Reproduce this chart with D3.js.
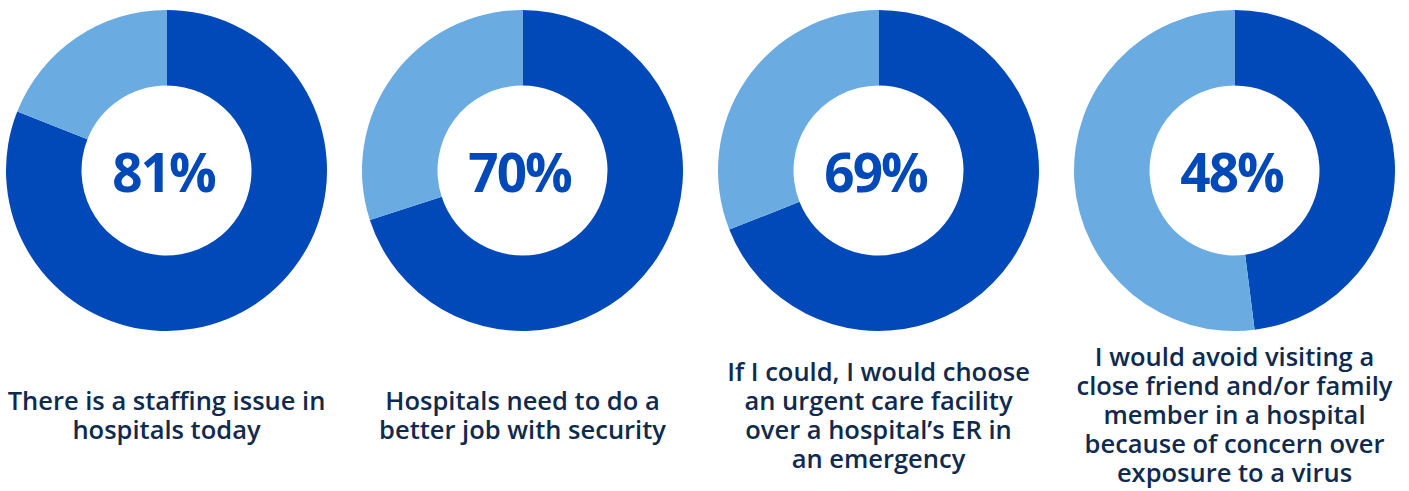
<!DOCTYPE html>
<html>
<head>
<meta charset="utf-8">
<script src="https://cdn.jsdelivr.net/npm/d3@7"></script>
<style>
  html, body { margin: 0; padding: 0; background: #ffffff; }
  svg { display: block; }
</style>
</head>
<body>
<svg id="chart" width="1409" height="491"></svg>
<script>
// Survey results: share of respondents agreeing with each statement
const statements = [
  ["There is a staffing issue in", "hospitals today"],
  ["Hospitals need to do a", "better job with security"],
  ["If I could, I would choose", "an urgent care facility", "over a hospital\u2019s ER in", "an emergency"],
  ["I would avoid visiting a", "close friend and/or family", "member in a hospital", "because of concern over", "exposure to a virus"]
];
const agreePct = [81, 70, 69, 48];

const colorAgree = "#0148b9";
const colorRest = "#6aabe2";
const textColor = "#0f2a4e";

const outerR = 160.5;
const innerR = 85;
const cy = 170.5;
const labelMid = 415;
const lineH = 29;

const svg = d3.select("#chart");

const x = d3.scalePoint()
  .domain(d3.range(agreePct.length))
  .range([166.5, 1234.5]);

const pie = d3.pie().sort(null).value(d => d);
const arc = d3.arc().innerRadius(innerR).outerRadius(outerR);

agreePct.forEach((p, i) => {
  const g = svg.append("g").attr("transform", `translate(${x(i)},${cy})`);
  g.selectAll("path")
    .data(pie([p, 100 - p]))
    .join("path")
    .attr("d", arc)
    .attr("fill", (d, j) => j === 0 ? colorAgree : colorRest);

  g.append("text")
    .attr("text-anchor", "middle")
    .attr("x", -3)
    .attr("y", 21)
    .attr("font-family", "'Open Sans', sans-serif")
    .attr("font-weight", 700)
    .attr("font-size", 53)
    .attr("letter-spacing", -2)
    .attr("fill", colorAgree)
    .text(p + "%");

  const lines = statements[i];
  const top = labelMid - (lines.length - 1) * lineH / 2;
  const t = svg.append("text")
    .attr("text-anchor", "middle")
    .attr("font-family", "'Open Sans', sans-serif")
    .attr("font-weight", 600)
    .attr("font-size", 25.5)
    .attr("fill", textColor);
  lines.forEach((ln, k) => {
    t.append("tspan")
      .attr("x", x(i))
      .attr("y", top + k * lineH + 9)
      .text(ln);
  });
});
</script>
</body>
</html>
